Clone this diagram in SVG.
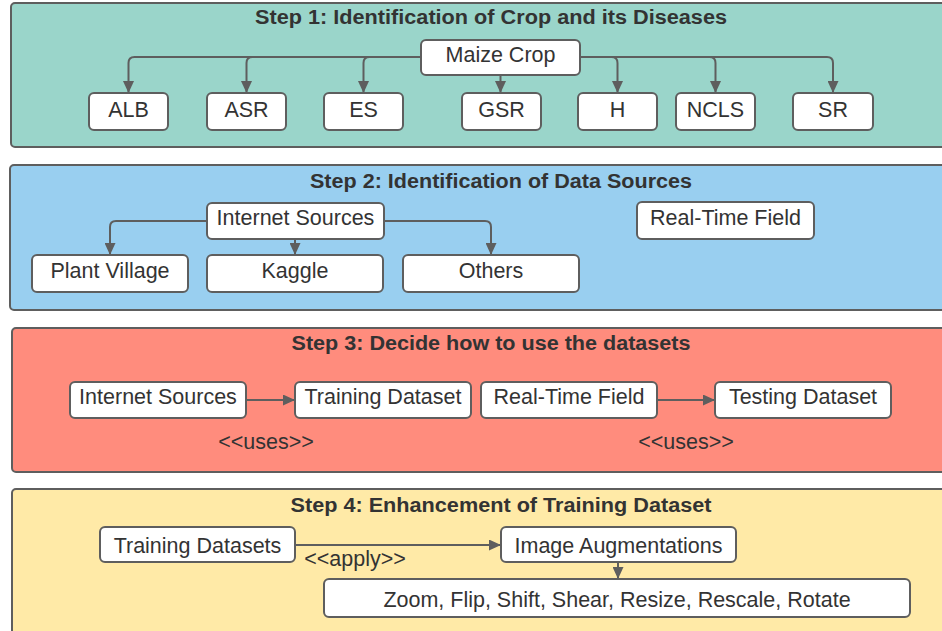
<svg xmlns="http://www.w3.org/2000/svg" width="942" height="631" viewBox="0 0 942 631">
  <defs>
    <marker id="arrow" viewBox="0 0 12 11" refX="12" refY="5.5" markerWidth="12" markerHeight="11" markerUnits="userSpaceOnUse" orient="auto">
      <path d="M0,0 L12,5.5 L0,11 Z" fill="#5e5e5e"/>
    </marker>
    <style>
      .panel { stroke: #5e5e5e; stroke-width: 2; }
      .box { fill: #ffffff; stroke: #5e5e5e; stroke-width: 2; }
      .title { font-family: "Liberation Sans", Arial, sans-serif; font-weight: bold; font-size: 20px; fill: #333333; text-anchor: middle; }
      .label { font-family: "Liberation Sans", Arial, sans-serif; font-size: 21.5px; fill: #333333; text-anchor: middle; }
      .note { font-family: "Liberation Sans", Arial, sans-serif; font-size: 21.5px; fill: #333333; text-anchor: middle; }
      .link { fill: none; stroke: #5e5e5e; stroke-width: 2; marker-end: url(#arrow); }
    </style>
  </defs>

  <!-- Panels -->
  <g id="step1">
    <rect class="panel" x="11" y="3" width="960" height="144" rx="4" fill="#9ad5ca"/>
    <text class="title" x="491" y="24" textLength="472" lengthAdjust="spacingAndGlyphs">Step 1: Identification of Crop and its Diseases</text>
  </g>
  <g id="step2">
    <rect class="panel" x="10" y="165" width="960" height="145" rx="4" fill="#99cff0"/>
    <text class="title" x="501" y="188" textLength="382" lengthAdjust="spacingAndGlyphs">Step 2: Identification of Data Sources</text>
  </g>
  <g id="step3">
    <rect class="panel" x="12" y="328" width="960" height="144" rx="4" fill="#ff8c7d"/>
    <text class="title" x="491" y="350" textLength="399" lengthAdjust="spacingAndGlyphs">Step 3: Decide how to use the datasets</text>
  </g>
  <g id="step4">
    <rect class="panel" x="12" y="489" width="960" height="200" rx="4" fill="#ffeaa7"/>
    <text class="title" x="501" y="512" textLength="421" lengthAdjust="spacingAndGlyphs">Step 4: Enhancement of Training Dataset</text>
  </g>

  <!-- Connectors -->
  <g id="connectors">
    <path class="link" d="M421,57 H134.5 Q128.5,57 128.5,63 V93"/>
    <path class="link" d="M421,57 H252.5 Q246.5,57 246.5,63 V93"/>
    <path class="link" d="M421,57 H369.5 Q363.5,57 363.5,63 V93"/>
    <path class="link" d="M500.5,75 V93"/>
    <path class="link" d="M580,57 H611.5 Q617.5,57 617.5,63 V93"/>
    <path class="link" d="M580,57 H709.5 Q715.5,57 715.5,63 V93"/>
    <path class="link" d="M580,57 H827 Q833,57 833,63 V93"/>

    <path class="link" d="M207,221 H116 Q110,221 110,227 V255"/>
    <path class="link" d="M295,239 V255"/>
    <path class="link" d="M384,221 H485 Q491,221 491,227 V255"/>

    <path class="link" d="M246,400 H295"/>
    <path class="link" d="M657,400 H715"/>
    <text class="note" x="266" y="449">&lt;&lt;uses&gt;&gt;</text>
    <text class="note" x="686" y="449">&lt;&lt;uses&gt;&gt;</text>

    <path class="link" d="M295,545 H501"/>
    <text class="note" x="355" y="566">&lt;&lt;apply&gt;&gt;</text>
    <path class="link" d="M618,562 V579"/>
  </g>

  <!-- Step 1 nodes -->
  <g id="maize-crop"><rect class="box" x="421" y="40" width="159" height="35" rx="5"/><text class="label" x="500.5" y="62">Maize Crop</text></g>
  <g id="alb"><rect class="box" x="89" y="93" width="79" height="37" rx="5"/><text class="label" x="128.5" y="117">ALB</text></g>
  <g id="asr"><rect class="box" x="207" y="93" width="79" height="37" rx="5"/><text class="label" x="246.5" y="117">ASR</text></g>
  <g id="es"><rect class="box" x="324" y="93" width="79" height="37" rx="5"/><text class="label" x="363.5" y="117">ES</text></g>
  <g id="gsr"><rect class="box" x="462" y="93" width="79" height="37" rx="5"/><text class="label" x="501.5" y="117">GSR</text></g>
  <g id="h"><rect class="box" x="578" y="93" width="79" height="37" rx="5"/><text class="label" x="617.5" y="117">H</text></g>
  <g id="ncls"><rect class="box" x="676" y="93" width="79" height="37" rx="5"/><text class="label" x="715.5" y="117">NCLS</text></g>
  <g id="sr"><rect class="box" x="793" y="93" width="80" height="37" rx="5"/><text class="label" x="833" y="117">SR</text></g>

  <!-- Step 2 nodes -->
  <g id="internet-sources"><rect class="box" x="207" y="203" width="177" height="36" rx="5"/><text class="label" x="295.5" y="225">Internet Sources</text></g>
  <g id="real-time-field"><rect class="box" x="637" y="202" width="177" height="37" rx="5"/><text class="label" x="725.5" y="225">Real-Time Field</text></g>
  <g id="plant-village"><rect class="box" x="32" y="255" width="156" height="37" rx="5"/><text class="label" x="110" y="278">Plant Village</text></g>
  <g id="kaggle"><rect class="box" x="207" y="255" width="176" height="37" rx="5"/><text class="label" x="295" y="278">Kaggle</text></g>
  <g id="others"><rect class="box" x="403" y="255" width="176" height="37" rx="5"/><text class="label" x="491" y="278">Others</text></g>

  <!-- Step 3 nodes -->
  <g id="s3-internet-sources"><rect class="box" x="70" y="382" width="176" height="36" rx="5"/><text class="label" x="158" y="404">Internet Sources</text></g>
  <g id="s3-training-dataset"><rect class="box" x="295" y="382" width="176" height="36" rx="5"/><text class="label" x="383" y="404">Training Dataset</text></g>
  <g id="s3-real-time-field"><rect class="box" x="481" y="382" width="176" height="36" rx="5"/><text class="label" x="569" y="404">Real-Time Field</text></g>
  <g id="s3-testing-dataset"><rect class="box" x="715" y="382" width="176" height="36" rx="5"/><text class="label" x="803" y="404">Testing Dataset</text></g>

  <!-- Step 4 nodes -->
  <g id="training-datasets"><rect class="box" x="100" y="527" width="195" height="35" rx="5"/><text class="label" x="197.5" y="553">Training Datasets</text></g>
  <g id="image-augmentations"><rect class="box" x="501" y="527" width="235" height="35" rx="5"/><text class="label" x="618.5" y="553">Image Augmentations</text></g>
  <g id="augmentation-ops"><rect class="box" x="324" y="579" width="586" height="38" rx="5"/><text class="label" x="617" y="607">Zoom, Flip, Shift, Shear, Resize, Rescale, Rotate</text></g>
</svg>
